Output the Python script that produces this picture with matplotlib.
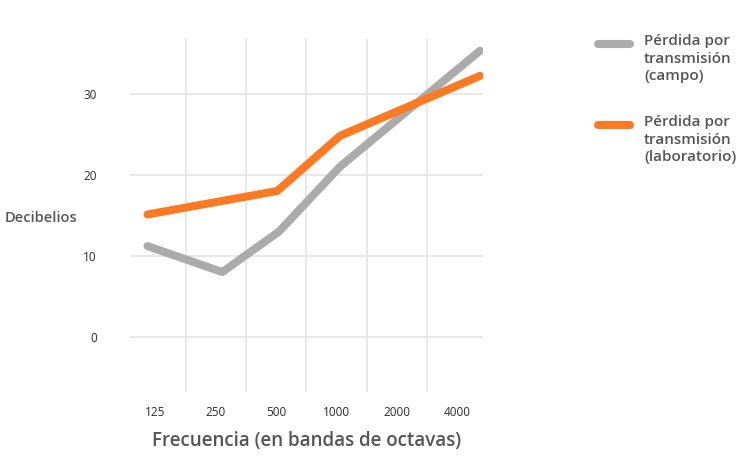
import matplotlib.pyplot as plt
from matplotlib.lines import Line2D

# data: frequency bands (category positions) and decibel values
bandas = ["125", "250", "500", "1000", "2000", "4000"]
campo_x = [0.37, 1.61, 2.55, 3.56, 5.88]
campo_db = [11.2, 8.0, 13.0, 21.0, 35.3]
lab_x = [0.37, 2.52, 3.56, 5.88]
lab_db = [15.1, 18.0, 24.8, 32.2]
y_ticks = [0, 10, 20, 30]

gris = "#ababab"
naranja = "#fe7a22"
texto = "#555555"

plt.rcParams['font.family'] = ['Open Sans', 'DejaVu Sans']

fig = plt.figure(figsize=(7.46, 4.73), dpi=100)
W, H = 746, 473
ax = fig.add_axes([130 / W, 1 - 392 / H, (483 - 130) / W, (392 - 39) / H])

ax.plot(campo_x, campo_db, color=gris, lw=5.8, solid_capstyle='round',
        solid_joinstyle='round', zorder=3)
ax.plot(lab_x, lab_db, color=naranja, lw=5.8, solid_capstyle='round',
        solid_joinstyle='round', zorder=4)

ax.set_xlim(0.08, 5.93)
ax.set_ylim(-6.8, 36.75)

# category tick labels at band centres, grid lines at band edges
ax.set_xticks([i + 0.5 for i in range(len(bandas))])
ax.set_xticklabels(bandas)
ax.set_xticks(range(1, len(bandas)), minor=True)
ax.set_yticks(y_ticks)
ax.grid(False)
ax.grid(True, which='minor', axis='x', color='#e6e6e8', lw=1.3)
ax.grid(True, which='major', axis='y', color='#e6e6e8', lw=1.3)
ax.tick_params(which='both', length=0)
ax.tick_params(axis='x', pad=10, labelsize=8.5, labelcolor='#2a2a2a')
ax.tick_params(axis='y', pad=24, labelsize=8.5, labelcolor='#2a2a2a')
for s in ax.spines.values():
    s.set_visible(False)

fig.text(5 / W, 1 - 218 / H, "Decibelios", fontsize=10.5, fontweight='semibold',
         color=texto, va='center', ha='left')
fig.text(307 / W, 1 - 441 / H, "Frecuencia (en bandas de octavas)",
         fontsize=13.5, fontweight='semibold', color=texto, ha='center', va='center')

# legend drawn by hand
entradas = [(gris, "Pérdida por\ntransmisión\n(campo)", 44),
            (naranja, "Pérdida por\ntransmisión\n(laboratorio)", 125)]
for col, lbl, yy in entradas:
    fig.add_artist(Line2D([598 / W, 630 / W], [1 - yy / H, 1 - yy / H],
                          color=col, lw=5.8, solid_capstyle='round',
                          transform=fig.transFigure))
    fig.text(644 / W, 1 - (yy - 10) / H, lbl, fontsize=11, fontweight='semibold',
             color=texto, va='top', ha='left', linespacing=1.32)

fig.savefig("out.png", dpi=100)
